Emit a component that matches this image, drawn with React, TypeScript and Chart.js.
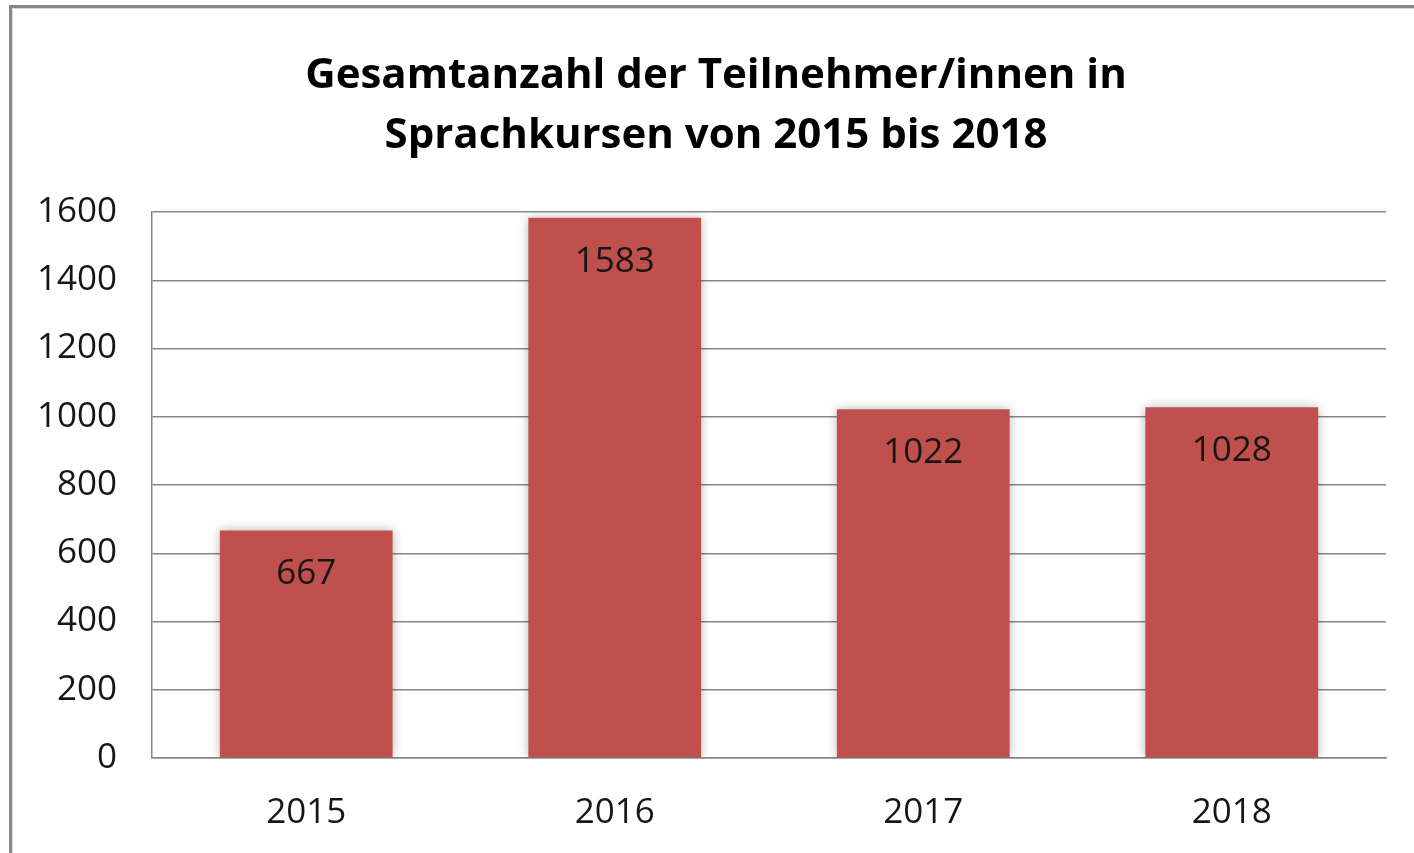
import React, { useEffect, useRef } from "react";
import { Chart, registerables } from "chart.js";

Chart.register(...registerables);

const categories = ["2015", "2016", "2017", "2018"];
const participants = [667, 1583, 1022, 1028];
const titleLines = ["Gesamtanzahl der Teilnehmer/innen in", "Sprachkursen von 2015 bis 2018"];
const yMin = 0;
const yMax = 1600;
const yStep = 200;

const FONT = "'Open Sans', 'DejaVu Sans', sans-serif";
const TEXT = "#161616";
const GRID = "#878787";
const BAR = "#C0504D";

export default function App() {
  const ref = useRef<HTMLCanvasElement | null>(null);

  useEffect(() => {
    if (!ref.current) return;

    const framePlugin = {
      id: "frame",
      beforeDraw(chart: any) {
        const ctx = chart.ctx;
        ctx.save();
        ctx.fillStyle = "#ffffff";
        ctx.fillRect(0, 0, chart.width, chart.height);
        ctx.fillStyle = "#888888";
        ctx.fillRect(9, 5, 3, chart.height);
        ctx.fillRect(9, 5, chart.width, 3);
        ctx.fillStyle = "#d8d8d8";
        ctx.fillRect(12, 8, 1, chart.height);
        ctx.fillRect(12, 8, chart.width, 1);
        ctx.restore();
      },
      afterDraw(chart: any) {
        const ctx = chart.ctx;
        ctx.save();
        ctx.fillStyle = "#000000";
        ctx.font = `bold 42px ${FONT}`;
        ctx.textAlign = "center";
        ctx.textBaseline = "alphabetic";
        ctx.fillText(titleLines[0], 716, 88);
        ctx.fillText(titleLines[1], 716, 148);
        ctx.restore();
      },
    };

    const barPlugin = {
      id: "barDeco",
      beforeDatasetsDraw(chart: any) {
        const ctx = chart.ctx;
        ctx.save();
        ctx.shadowColor = "rgba(0,0,0,0.28)";
        ctx.shadowBlur = 10;
        ctx.shadowOffsetX = 0;
        ctx.shadowOffsetY = 0;
      },
      afterDatasetsDraw(chart: any) {
        const ctx = chart.ctx;
        ctx.restore();
        ctx.save();
        ctx.fillStyle = TEXT;
        ctx.font = `35px ${FONT}`;
        ctx.textAlign = "center";
        ctx.textBaseline = "middle";
        const meta = chart.getDatasetMeta(0);
        meta.data.forEach((el: any, i: number) => {
          ctx.fillText(String(participants[i]), el.x, el.y + 44);
        });
        ctx.restore();
      },
    };

    const chart = new Chart(ref.current, {
      type: "bar",
      data: {
        labels: categories,
        datasets: [
          {
            data: participants,
            backgroundColor: BAR,
            borderWidth: 0,
            barPercentage: 0.56,
            categoryPercentage: 1,
          },
        ],
      },
      options: {
        animation: false,
        responsive: false,
        maintainAspectRatio: false,
        layout: { padding: { top: 212, right: 28, bottom: 0, left: 0 } },
        plugins: {
          legend: { display: false },
          title: { display: false },
          tooltip: { enabled: false },
        },
        scales: {
          x: {
            grid: { display: false, drawTicks: false },
            border: { display: true, color: GRID, width: 1.5 },
            ticks: {
              color: TEXT,
              font: { family: FONT, size: 35 },
              padding: 34,
            },
            afterFit(scale: any) {
              scale.height = 95;
            },
          },
          y: {
            min: yMin,
            max: yMax,
            grid: { color: GRID, lineWidth: 1.5, drawTicks: false },
            border: { display: true, color: GRID, width: 1.5 },
            ticks: {
              stepSize: yStep,
              color: TEXT,
              font: { family: FONT, size: 35 },
              padding: 35,
              callback: (v: any) => String(v),
            },
            afterFit(scale: any) {
              scale.width = 152;
            },
          },
        },
      },
      plugins: [framePlugin, barPlugin],
    });

    return () => chart.destroy();
  }, []);

  return (
    <div style={{ position: "fixed", left: 0, top: 0, width: 1414, height: 853, background: "#fff" }}>
      <canvas ref={ref} width={1414} height={853} style={{ display: "block" }} />
    </div>
  );
}
